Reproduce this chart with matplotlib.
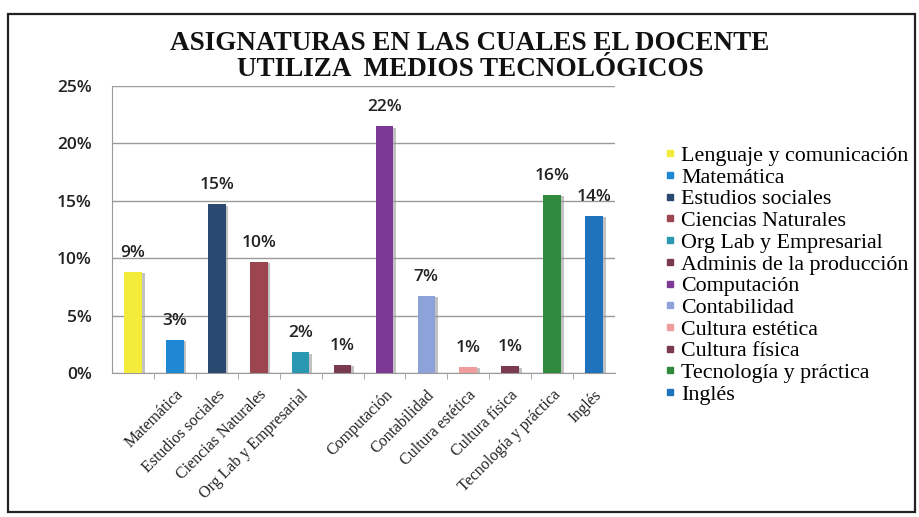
import matplotlib
matplotlib.use("Agg")
import matplotlib.pyplot as plt
from matplotlib.lines import Line2D
from matplotlib.patches import Rectangle
import matplotlib.patheffects as pe

# ---- data ----
series = ["Lenguaje y comunicación", "Matemática", "Estudios sociales",
          "Ciencias Naturales", "Org Lab y Empresarial", "Adminis de la producción",
          "Computación", "Contabilidad", "Cultura estética", "Cultura física",
          "Tecnología y práctica", "Inglés"]
values = [0.088, 0.029, 0.147, 0.097, 0.018, 0.007, 0.215, 0.067, 0.0055, 0.006, 0.155, 0.137]
tick_labels = ["", "Matemática", "Estudios sociales", "Ciencias Naturales",
               "Org Lab y Empresarial", "", "Computación", "Contabilidad",
               "Cultura estética", "Cultura física", "Tecnología y práctica", "Inglés"]
colors = ["#F3EC3A", "#1E88D4", "#2A4970", "#9C4550", "#2A98B2", "#7A3A4E",
          "#7C3A95", "#8EA2DA", "#EE9C9C", "#7C3A52", "#2F8A3E", "#1F72BC"]
yticks = [0, 0.05, 0.10, 0.15, 0.20, 0.25]
title_lines = ["ASIGNATURAS EN LAS CUALES EL DOCENTE", "UTILIZA  MEDIOS TECNOLÓGICOS"]

W, H = 919, 517
fig = plt.figure(figsize=(W / 100, H / 100), dpi=100)
fig.patch.set_facecolor("white")

# outer frame
fig.add_artist(Rectangle((8 / W, 1 - 512 / H), (915 - 8) / W, (512 - 14) / H,
                         transform=fig.transFigure, fill=False, ec="#222222", lw=1.6))

ax = fig.add_axes([112 / W, 1 - 373 / H, (615 - 112) / W, (373 - 86) / H])
x = list(range(len(values)))
ax.bar(x, values, width=0.42, color=colors, zorder=3,
       path_effects=[pe.SimplePatchShadow(offset=(2, -1), shadow_rgbFace="#9a9a9a", alpha=0.6),
                     pe.Normal()])

for xi, v in zip(x, values):
    ax.annotate(f"{round(v * 100):d}%", (xi, v), xytext=(0, 8), textcoords="offset points",
                ha="center", va="bottom", fontsize=12.5, color="#222222",
                family="Open Sans", fontweight="semibold")

ax.set_xlim(-0.5, len(values) - 0.5)
ax.set_ylim(0, 0.25)
ax.set_yticks(yticks)
ax.set_yticklabels([f"{int(round(t * 100))}%" for t in yticks], family="Open Sans",
                   fontweight="semibold", fontsize=12.5, color="#222222")
ax.tick_params(axis="y", length=0, pad=14.5)
ax.grid(axis="y", color="#9a9a9a", lw=1.0, zorder=0)
ax.set_xticks(x)
ax.set_xticklabels(tick_labels, rotation=45, ha="right", rotation_mode="anchor",
                   family="Liberation Serif", fontsize=11.5, color="#222222")
ax.tick_params(axis="x", length=0, pad=10)
ax.set_xticks([i + 0.5 for i in range(len(values) - 1)], minor=True)
ax.tick_params(axis="x", which="minor", length=4, color="#9a9a9a")
for s in ["top", "right"]:
    ax.spines[s].set_visible(False)
for s in ["left", "bottom"]:
    ax.spines[s].set_color("#9a9a9a")

handles = [Line2D([], [], marker="s", ls="", color=c, markersize=5) for c in colors]
fig.legend(handles, series, loc="upper left", bbox_to_anchor=(657 / W, 1 - 137 / H),
           frameon=False, prop={"family": "Liberation Serif", "size": 15.8},
           handlelength=0.4, handletextpad=0.3, labelspacing=0.06, borderaxespad=0)

fig.text(470 / W, 1 - 44 / H, title_lines[0], ha="center", va="center",
         family="Liberation Serif", fontweight="bold", fontsize=19.5, color="#111111")
fig.text(470 / W, 1 - 70 / H, title_lines[1], ha="center", va="center",
         family="Liberation Serif", fontweight="bold", fontsize=19.5, color="#111111")

fig.savefig("out.png", dpi=100, facecolor="white")
